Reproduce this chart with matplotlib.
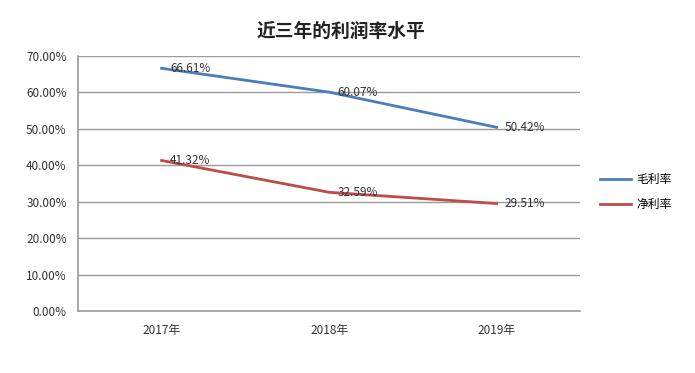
import numpy as np
import matplotlib.pyplot as plt
from matplotlib.ticker import FuncFormatter

plt.rcParams['font.family'] = ['Noto Sans CJK SC', 'DejaVu Sans']

# data
years = ['2017年', '2018年', '2019年']
gross_margin = [66.61, 60.07, 50.42]   # 毛利率 (%)
net_margin = [41.32, 32.59, 29.51]     # 净利率 (%)

fig = plt.figure(figsize=(6.95, 3.73), dpi=100)
ax = fig.add_axes([0.112, 0.166, 0.723, 0.684])

x = np.arange(len(years))
ax.plot(x, gross_margin, color='#4a7ebb', lw=2, label='毛利率')
ax.plot(x, net_margin, color='#be4b48', lw=2, label='净利率')

for xi, v in zip(x, gross_margin):
    ax.annotate(f'{v:.2f}%', (xi, v), xytext=(6, 0), textcoords='offset points',
                ha='left', va='center', fontsize=8.5, color='#333333')
for xi, v in zip(x, net_margin):
    ax.annotate(f'{v:.2f}%', (xi, v), xytext=(6, 0), textcoords='offset points',
                ha='left', va='center', fontsize=8.5, color='#333333')

ax.set_xlim(-0.5, 2.5)
ax.set_ylim(0, 70)
ax.set_yticks(np.arange(0, 71, 10))
ax.yaxis.set_major_formatter(FuncFormatter(lambda v, p: f'{v:.2f}%'))
ax.set_xticks(x)
ax.set_xticklabels(years)
ax.tick_params(axis='both', length=0, labelsize=8.5, colors='#333333')
ax.tick_params(axis='x', pad=9)
ax.tick_params(axis='y', pad=8)
ax.grid(axis='y', color='#9a9a9a', lw=1)
ax.set_axisbelow(True)
for s in ['top', 'right']:
    ax.spines[s].set_visible(False)
for s in ['left', 'bottom']:
    ax.spines[s].set_color('#9a9a9a')
    ax.spines[s].set_linewidth(1.2)

fig.text(0.49, 0.915, '近三年的利润率水平', ha='center', va='center',
         fontsize=13.5, fontweight='bold', color='#222222')

fig.legend(loc='center left', bbox_to_anchor=(0.848, 0.485), frameon=False,
           fontsize=8.5, handlelength=2.6, handletextpad=0.5, labelspacing=1.0)

fig.savefig('out.png', dpi=100)
